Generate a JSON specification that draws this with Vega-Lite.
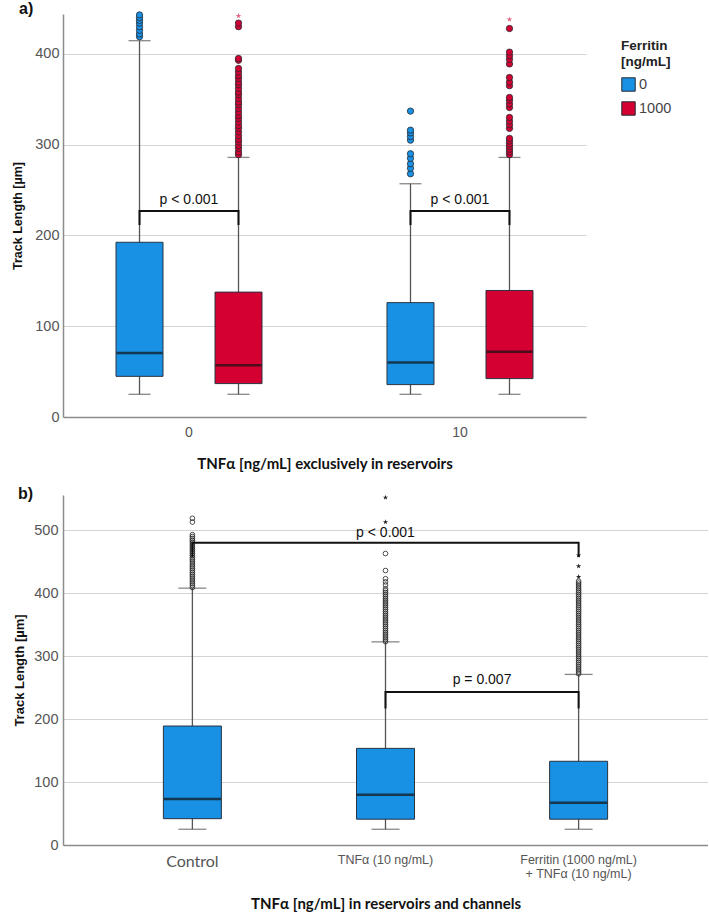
{
  "$schema": "https://vega.github.io/schema/vega-lite/v6.json",
  "background": "white",
  "padding": {"left": 11, "top": 0, "right": 0, "bottom": 0},
  "spacing": 14,
  "config": {
    "view": {"stroke": null},
    "axis": {
      "labelFont": "Liberation Sans",
      "labelColor": "#555555",
      "labelFontSize": 14,
      "titleFont": "Lato",
      "titleFontWeight": "bold",
      "titleColor": "#111111",
      "domainColor": "#8c8c8c",
      "domainWidth": 1.5,
      "gridColor": "#d4d4d4",
      "gridWidth": 1,
      "ticks": false
    },
    "title": {"font": "Liberation Sans", "fontWeight": "bold", "fontSize": 16, "color": "#111111"}
  },
  "resolve": {"scale": {"x": "independent", "y": "independent", "fill": "independent"}},
  "datasets": {
    "boxA": [
      {"group": "0", "ferritin": "0", "min": 25, "q1": 44.8, "median": 70.5, "q3": 192.5, "max": 414.6},
      {"group": "0", "ferritin": "1000", "min": 25, "q1": 36.8, "median": 57, "q3": 137.6, "max": 286},
      {"group": "10", "ferritin": "0", "min": 25, "q1": 35.7, "median": 60, "q3": 126, "max": 257},
      {"group": "10", "ferritin": "1000", "min": 25, "q1": 42.3, "median": 72, "q3": 139.4, "max": 286}
    ],
    "outA": [
      {"group": "0", "ferritin": "0", "value": 419, "kind": "outlier"},
      {"group": "0", "ferritin": "0", "value": 422, "kind": "outlier"},
      {"group": "0", "ferritin": "0", "value": 426, "kind": "outlier"},
      {"group": "0", "ferritin": "0", "value": 430, "kind": "outlier"},
      {"group": "0", "ferritin": "0", "value": 434, "kind": "outlier"},
      {"group": "0", "ferritin": "0", "value": 437, "kind": "outlier"},
      {"group": "0", "ferritin": "0", "value": 440, "kind": "outlier"},
      {"group": "0", "ferritin": "0", "value": 443, "kind": "outlier"},
      {"group": "0", "ferritin": "1000", "value": 289, "kind": "outlier"},
      {"group": "0", "ferritin": "1000", "value": 292, "kind": "outlier"},
      {"group": "0", "ferritin": "1000", "value": 296, "kind": "outlier"},
      {"group": "0", "ferritin": "1000", "value": 299, "kind": "outlier"},
      {"group": "0", "ferritin": "1000", "value": 303, "kind": "outlier"},
      {"group": "0", "ferritin": "1000", "value": 306, "kind": "outlier"},
      {"group": "0", "ferritin": "1000", "value": 310, "kind": "outlier"},
      {"group": "0", "ferritin": "1000", "value": 314, "kind": "outlier"},
      {"group": "0", "ferritin": "1000", "value": 318, "kind": "outlier"},
      {"group": "0", "ferritin": "1000", "value": 321, "kind": "outlier"},
      {"group": "0", "ferritin": "1000", "value": 325, "kind": "outlier"},
      {"group": "0", "ferritin": "1000", "value": 329, "kind": "outlier"},
      {"group": "0", "ferritin": "1000", "value": 332, "kind": "outlier"},
      {"group": "0", "ferritin": "1000", "value": 336, "kind": "outlier"},
      {"group": "0", "ferritin": "1000", "value": 340, "kind": "outlier"},
      {"group": "0", "ferritin": "1000", "value": 344, "kind": "outlier"},
      {"group": "0", "ferritin": "1000", "value": 347, "kind": "outlier"},
      {"group": "0", "ferritin": "1000", "value": 351, "kind": "outlier"},
      {"group": "0", "ferritin": "1000", "value": 355, "kind": "outlier"},
      {"group": "0", "ferritin": "1000", "value": 358, "kind": "outlier"},
      {"group": "0", "ferritin": "1000", "value": 362, "kind": "outlier"},
      {"group": "0", "ferritin": "1000", "value": 366, "kind": "outlier"},
      {"group": "0", "ferritin": "1000", "value": 369, "kind": "outlier"},
      {"group": "0", "ferritin": "1000", "value": 373, "kind": "outlier"},
      {"group": "0", "ferritin": "1000", "value": 376, "kind": "outlier"},
      {"group": "0", "ferritin": "1000", "value": 380, "kind": "outlier"},
      {"group": "0", "ferritin": "1000", "value": 384, "kind": "outlier"},
      {"group": "0", "ferritin": "1000", "value": 393, "kind": "outlier"},
      {"group": "0", "ferritin": "1000", "value": 395, "kind": "outlier"},
      {"group": "0", "ferritin": "1000", "value": 430, "kind": "outlier"},
      {"group": "0", "ferritin": "1000", "value": 434, "kind": "outlier"},
      {"group": "0", "ferritin": "1000", "value": 442, "kind": "extreme"},
      {"group": "10", "ferritin": "0", "value": 268, "kind": "outlier"},
      {"group": "10", "ferritin": "0", "value": 274, "kind": "outlier"},
      {"group": "10", "ferritin": "0", "value": 279, "kind": "outlier"},
      {"group": "10", "ferritin": "0", "value": 285, "kind": "outlier"},
      {"group": "10", "ferritin": "0", "value": 290, "kind": "outlier"},
      {"group": "10", "ferritin": "0", "value": 305, "kind": "outlier"},
      {"group": "10", "ferritin": "0", "value": 309, "kind": "outlier"},
      {"group": "10", "ferritin": "0", "value": 313, "kind": "outlier"},
      {"group": "10", "ferritin": "0", "value": 316, "kind": "outlier"},
      {"group": "10", "ferritin": "0", "value": 337, "kind": "outlier"},
      {"group": "10", "ferritin": "1000", "value": 289, "kind": "outlier"},
      {"group": "10", "ferritin": "1000", "value": 292, "kind": "outlier"},
      {"group": "10", "ferritin": "1000", "value": 295, "kind": "outlier"},
      {"group": "10", "ferritin": "1000", "value": 298, "kind": "outlier"},
      {"group": "10", "ferritin": "1000", "value": 301, "kind": "outlier"},
      {"group": "10", "ferritin": "1000", "value": 304, "kind": "outlier"},
      {"group": "10", "ferritin": "1000", "value": 307, "kind": "outlier"},
      {"group": "10", "ferritin": "1000", "value": 318, "kind": "outlier"},
      {"group": "10", "ferritin": "1000", "value": 322, "kind": "outlier"},
      {"group": "10", "ferritin": "1000", "value": 326, "kind": "outlier"},
      {"group": "10", "ferritin": "1000", "value": 330, "kind": "outlier"},
      {"group": "10", "ferritin": "1000", "value": 341, "kind": "outlier"},
      {"group": "10", "ferritin": "1000", "value": 345, "kind": "outlier"},
      {"group": "10", "ferritin": "1000", "value": 349, "kind": "outlier"},
      {"group": "10", "ferritin": "1000", "value": 352, "kind": "outlier"},
      {"group": "10", "ferritin": "1000", "value": 365, "kind": "outlier"},
      {"group": "10", "ferritin": "1000", "value": 369, "kind": "outlier"},
      {"group": "10", "ferritin": "1000", "value": 374, "kind": "outlier"},
      {"group": "10", "ferritin": "1000", "value": 389, "kind": "outlier"},
      {"group": "10", "ferritin": "1000", "value": 394, "kind": "outlier"},
      {"group": "10", "ferritin": "1000", "value": 398, "kind": "outlier"},
      {"group": "10", "ferritin": "1000", "value": 402, "kind": "outlier"},
      {"group": "10", "ferritin": "1000", "value": 428, "kind": "outlier"},
      {"group": "10", "ferritin": "1000", "value": 438, "kind": "extreme"}
    ],
    "bracketA": [
      {"bracket": "a0", "step": 1, "group": "0", "ferritin": "0", "y": 211.5},
      {"bracket": "a0", "step": 2, "group": "0", "ferritin": "0", "y": 227},
      {"bracket": "a0", "step": 3, "group": "0", "ferritin": "1000", "y": 227},
      {"bracket": "a0", "step": 4, "group": "0", "ferritin": "1000", "y": 211.5},
      {"bracket": "a10", "step": 1, "group": "10", "ferritin": "0", "y": 211.5},
      {"bracket": "a10", "step": 2, "group": "10", "ferritin": "0", "y": 227},
      {"bracket": "a10", "step": 3, "group": "10", "ferritin": "1000", "y": 227},
      {"bracket": "a10", "step": 4, "group": "10", "ferritin": "1000", "y": 211.5}
    ],
    "pA": [
      {"group": "0", "y": 239, "label": "p < 0.001"},
      {"group": "10", "y": 239, "label": "p < 0.001"}
    ],
    "boxB": [
      {"cond": "Control", "min": 25, "q1": 41.8, "median": 73, "q3": 189, "max": 408},
      {"cond": "TNFα (10 ng/mL)", "min": 25, "q1": 41, "median": 80, "q3": 153.5, "max": 322.7},
      {"cond": "Ferritin (1000 ng/mL) + TNFα (10 ng/mL)", "min": 25, "q1": 41, "median": 67, "q3": 133, "max": 271}
    ],
    "outB": [
      {"cond": "Control", "value": 409, "kind": "outlier"},
      {"cond": "Control", "value": 412, "kind": "outlier"},
      {"cond": "Control", "value": 415, "kind": "outlier"},
      {"cond": "Control", "value": 418, "kind": "outlier"},
      {"cond": "Control", "value": 421, "kind": "outlier"},
      {"cond": "Control", "value": 424, "kind": "outlier"},
      {"cond": "Control", "value": 427, "kind": "outlier"},
      {"cond": "Control", "value": 430, "kind": "outlier"},
      {"cond": "Control", "value": 433, "kind": "outlier"},
      {"cond": "Control", "value": 436, "kind": "outlier"},
      {"cond": "Control", "value": 439, "kind": "outlier"},
      {"cond": "Control", "value": 442, "kind": "outlier"},
      {"cond": "Control", "value": 445, "kind": "outlier"},
      {"cond": "Control", "value": 448, "kind": "outlier"},
      {"cond": "Control", "value": 451, "kind": "outlier"},
      {"cond": "Control", "value": 454, "kind": "outlier"},
      {"cond": "Control", "value": 457, "kind": "outlier"},
      {"cond": "Control", "value": 460, "kind": "outlier"},
      {"cond": "Control", "value": 463, "kind": "outlier"},
      {"cond": "Control", "value": 466, "kind": "outlier"},
      {"cond": "Control", "value": 469, "kind": "outlier"},
      {"cond": "Control", "value": 472, "kind": "outlier"},
      {"cond": "Control", "value": 475, "kind": "outlier"},
      {"cond": "Control", "value": 478, "kind": "outlier"},
      {"cond": "Control", "value": 481, "kind": "outlier"},
      {"cond": "Control", "value": 484, "kind": "outlier"},
      {"cond": "Control", "value": 487, "kind": "outlier"},
      {"cond": "Control", "value": 490, "kind": "outlier"},
      {"cond": "Control", "value": 493, "kind": "outlier"},
      {"cond": "Control", "value": 513, "kind": "outlier"},
      {"cond": "Control", "value": 519, "kind": "outlier"},
      {"cond": "TNFα (10 ng/mL)", "value": 323, "kind": "outlier"},
      {"cond": "TNFα (10 ng/mL)", "value": 326, "kind": "outlier"},
      {"cond": "TNFα (10 ng/mL)", "value": 329, "kind": "outlier"},
      {"cond": "TNFα (10 ng/mL)", "value": 332, "kind": "outlier"},
      {"cond": "TNFα (10 ng/mL)", "value": 335, "kind": "outlier"},
      {"cond": "TNFα (10 ng/mL)", "value": 338, "kind": "outlier"},
      {"cond": "TNFα (10 ng/mL)", "value": 341, "kind": "outlier"},
      {"cond": "TNFα (10 ng/mL)", "value": 344, "kind": "outlier"},
      {"cond": "TNFα (10 ng/mL)", "value": 347, "kind": "outlier"},
      {"cond": "TNFα (10 ng/mL)", "value": 350, "kind": "outlier"},
      {"cond": "TNFα (10 ng/mL)", "value": 353, "kind": "outlier"},
      {"cond": "TNFα (10 ng/mL)", "value": 356, "kind": "outlier"},
      {"cond": "TNFα (10 ng/mL)", "value": 359, "kind": "outlier"},
      {"cond": "TNFα (10 ng/mL)", "value": 362, "kind": "outlier"},
      {"cond": "TNFα (10 ng/mL)", "value": 365, "kind": "outlier"},
      {"cond": "TNFα (10 ng/mL)", "value": 368, "kind": "outlier"},
      {"cond": "TNFα (10 ng/mL)", "value": 371, "kind": "outlier"},
      {"cond": "TNFα (10 ng/mL)", "value": 374, "kind": "outlier"},
      {"cond": "TNFα (10 ng/mL)", "value": 377, "kind": "outlier"},
      {"cond": "TNFα (10 ng/mL)", "value": 380, "kind": "outlier"},
      {"cond": "TNFα (10 ng/mL)", "value": 383, "kind": "outlier"},
      {"cond": "TNFα (10 ng/mL)", "value": 386, "kind": "outlier"},
      {"cond": "TNFα (10 ng/mL)", "value": 389, "kind": "outlier"},
      {"cond": "TNFα (10 ng/mL)", "value": 392, "kind": "outlier"},
      {"cond": "TNFα (10 ng/mL)", "value": 395, "kind": "outlier"},
      {"cond": "TNFα (10 ng/mL)", "value": 398, "kind": "outlier"},
      {"cond": "TNFα (10 ng/mL)", "value": 401, "kind": "outlier"},
      {"cond": "TNFα (10 ng/mL)", "value": 404, "kind": "outlier"},
      {"cond": "TNFα (10 ng/mL)", "value": 407, "kind": "outlier"},
      {"cond": "TNFα (10 ng/mL)", "value": 413, "kind": "outlier"},
      {"cond": "TNFα (10 ng/mL)", "value": 418, "kind": "outlier"},
      {"cond": "TNFα (10 ng/mL)", "value": 423, "kind": "outlier"},
      {"cond": "TNFα (10 ng/mL)", "value": 436, "kind": "outlier"},
      {"cond": "TNFα (10 ng/mL)", "value": 463, "kind": "outlier"},
      {"cond": "TNFα (10 ng/mL)", "value": 513, "kind": "extreme"},
      {"cond": "TNFα (10 ng/mL)", "value": 552, "kind": "extreme"},
      {"cond": "Ferritin (1000 ng/mL) + TNFα (10 ng/mL)", "value": 272, "kind": "outlier"},
      {"cond": "Ferritin (1000 ng/mL) + TNFα (10 ng/mL)", "value": 275, "kind": "outlier"},
      {"cond": "Ferritin (1000 ng/mL) + TNFα (10 ng/mL)", "value": 278, "kind": "outlier"},
      {"cond": "Ferritin (1000 ng/mL) + TNFα (10 ng/mL)", "value": 281, "kind": "outlier"},
      {"cond": "Ferritin (1000 ng/mL) + TNFα (10 ng/mL)", "value": 284, "kind": "outlier"},
      {"cond": "Ferritin (1000 ng/mL) + TNFα (10 ng/mL)", "value": 287, "kind": "outlier"},
      {"cond": "Ferritin (1000 ng/mL) + TNFα (10 ng/mL)", "value": 290, "kind": "outlier"},
      {"cond": "Ferritin (1000 ng/mL) + TNFα (10 ng/mL)", "value": 293, "kind": "outlier"},
      {"cond": "Ferritin (1000 ng/mL) + TNFα (10 ng/mL)", "value": 296, "kind": "outlier"},
      {"cond": "Ferritin (1000 ng/mL) + TNFα (10 ng/mL)", "value": 299, "kind": "outlier"},
      {"cond": "Ferritin (1000 ng/mL) + TNFα (10 ng/mL)", "value": 302, "kind": "outlier"},
      {"cond": "Ferritin (1000 ng/mL) + TNFα (10 ng/mL)", "value": 305, "kind": "outlier"},
      {"cond": "Ferritin (1000 ng/mL) + TNFα (10 ng/mL)", "value": 308, "kind": "outlier"},
      {"cond": "Ferritin (1000 ng/mL) + TNFα (10 ng/mL)", "value": 311, "kind": "outlier"},
      {"cond": "Ferritin (1000 ng/mL) + TNFα (10 ng/mL)", "value": 314, "kind": "outlier"},
      {"cond": "Ferritin (1000 ng/mL) + TNFα (10 ng/mL)", "value": 317, "kind": "outlier"},
      {"cond": "Ferritin (1000 ng/mL) + TNFα (10 ng/mL)", "value": 320, "kind": "outlier"},
      {"cond": "Ferritin (1000 ng/mL) + TNFα (10 ng/mL)", "value": 323, "kind": "outlier"},
      {"cond": "Ferritin (1000 ng/mL) + TNFα (10 ng/mL)", "value": 326, "kind": "outlier"},
      {"cond": "Ferritin (1000 ng/mL) + TNFα (10 ng/mL)", "value": 329, "kind": "outlier"},
      {"cond": "Ferritin (1000 ng/mL) + TNFα (10 ng/mL)", "value": 332, "kind": "outlier"},
      {"cond": "Ferritin (1000 ng/mL) + TNFα (10 ng/mL)", "value": 335, "kind": "outlier"},
      {"cond": "Ferritin (1000 ng/mL) + TNFα (10 ng/mL)", "value": 338, "kind": "outlier"},
      {"cond": "Ferritin (1000 ng/mL) + TNFα (10 ng/mL)", "value": 341, "kind": "outlier"},
      {"cond": "Ferritin (1000 ng/mL) + TNFα (10 ng/mL)", "value": 344, "kind": "outlier"},
      {"cond": "Ferritin (1000 ng/mL) + TNFα (10 ng/mL)", "value": 347, "kind": "outlier"},
      {"cond": "Ferritin (1000 ng/mL) + TNFα (10 ng/mL)", "value": 350, "kind": "outlier"},
      {"cond": "Ferritin (1000 ng/mL) + TNFα (10 ng/mL)", "value": 353, "kind": "outlier"},
      {"cond": "Ferritin (1000 ng/mL) + TNFα (10 ng/mL)", "value": 356, "kind": "outlier"},
      {"cond": "Ferritin (1000 ng/mL) + TNFα (10 ng/mL)", "value": 359, "kind": "outlier"},
      {"cond": "Ferritin (1000 ng/mL) + TNFα (10 ng/mL)", "value": 362, "kind": "outlier"},
      {"cond": "Ferritin (1000 ng/mL) + TNFα (10 ng/mL)", "value": 365, "kind": "outlier"},
      {"cond": "Ferritin (1000 ng/mL) + TNFα (10 ng/mL)", "value": 368, "kind": "outlier"},
      {"cond": "Ferritin (1000 ng/mL) + TNFα (10 ng/mL)", "value": 371, "kind": "outlier"},
      {"cond": "Ferritin (1000 ng/mL) + TNFα (10 ng/mL)", "value": 374, "kind": "outlier"},
      {"cond": "Ferritin (1000 ng/mL) + TNFα (10 ng/mL)", "value": 377, "kind": "outlier"},
      {"cond": "Ferritin (1000 ng/mL) + TNFα (10 ng/mL)", "value": 380, "kind": "outlier"},
      {"cond": "Ferritin (1000 ng/mL) + TNFα (10 ng/mL)", "value": 383, "kind": "outlier"},
      {"cond": "Ferritin (1000 ng/mL) + TNFα (10 ng/mL)", "value": 386, "kind": "outlier"},
      {"cond": "Ferritin (1000 ng/mL) + TNFα (10 ng/mL)", "value": 389, "kind": "outlier"},
      {"cond": "Ferritin (1000 ng/mL) + TNFα (10 ng/mL)", "value": 392, "kind": "outlier"},
      {"cond": "Ferritin (1000 ng/mL) + TNFα (10 ng/mL)", "value": 395, "kind": "outlier"},
      {"cond": "Ferritin (1000 ng/mL) + TNFα (10 ng/mL)", "value": 398, "kind": "outlier"},
      {"cond": "Ferritin (1000 ng/mL) + TNFα (10 ng/mL)", "value": 401, "kind": "outlier"},
      {"cond": "Ferritin (1000 ng/mL) + TNFα (10 ng/mL)", "value": 404, "kind": "outlier"},
      {"cond": "Ferritin (1000 ng/mL) + TNFα (10 ng/mL)", "value": 407, "kind": "outlier"},
      {"cond": "Ferritin (1000 ng/mL) + TNFα (10 ng/mL)", "value": 410, "kind": "outlier"},
      {"cond": "Ferritin (1000 ng/mL) + TNFα (10 ng/mL)", "value": 413, "kind": "outlier"},
      {"cond": "Ferritin (1000 ng/mL) + TNFα (10 ng/mL)", "value": 416, "kind": "outlier"},
      {"cond": "Ferritin (1000 ng/mL) + TNFα (10 ng/mL)", "value": 419, "kind": "outlier"},
      {"cond": "Ferritin (1000 ng/mL) + TNFα (10 ng/mL)", "value": 426, "kind": "extreme"},
      {"cond": "Ferritin (1000 ng/mL) + TNFα (10 ng/mL)", "value": 443, "kind": "extreme"},
      {"cond": "Ferritin (1000 ng/mL) + TNFα (10 ng/mL)", "value": 460, "kind": "extreme"}
    ],
    "bracketB": [
      {"bracket": "b1", "step": 1, "cond": "Control", "y": 457},
      {"bracket": "b1", "step": 2, "cond": "Control", "y": 480},
      {"bracket": "b1", "step": 3, "cond": "Ferritin (1000 ng/mL) + TNFα (10 ng/mL)", "y": 480},
      {"bracket": "b1", "step": 4, "cond": "Ferritin (1000 ng/mL) + TNFα (10 ng/mL)", "y": 457.6},
      {"bracket": "b2", "step": 1, "cond": "TNFα (10 ng/mL)", "y": 217},
      {"bracket": "b2", "step": 2, "cond": "TNFα (10 ng/mL)", "y": 243},
      {"bracket": "b2", "step": 3, "cond": "Ferritin (1000 ng/mL) + TNFα (10 ng/mL)", "y": 243},
      {"bracket": "b2", "step": 4, "cond": "Ferritin (1000 ng/mL) + TNFα (10 ng/mL)", "y": 217}
    ],
    "pB1": [{"cond": "TNFα (10 ng/mL)", "y": 495, "label": "p < 0.001"}],
    "pB2": [{"cond": "TNFα (10 ng/mL)", "y": 262, "label": "p = 0.007"}]
  },
  "vconcat": [
    {
      "width": 523,
      "height": 403,
      "title": {"text": "a)", "anchor": "start", "frame": "group", "dx": -44, "offset": -6.5},
      "encoding": {
        "x": {
          "field": "group",
          "type": "nominal",
          "sort": ["0", "10"],
          "scale": {"type": "band", "paddingInner": 0.2, "paddingOuter": 0.065},
          "axis": {
            "title": "TNFα [ng/mL] exclusively in reservoirs",
            "titleFont": "Lato",
            "titleFontSize": 15,
            "titlePadding": 17,
            "labelFont": "Liberation Sans",
            "labelFontSize": 14,
            "labelColor": "#555555",
            "labelAngle": 0,
            "labelPadding": 8,
            "grid": false
          }
        }
      },
      "layer": [
        {
          "data": {"name": "boxA"},
          "mark": {"type": "rule", "color": "#555555", "strokeWidth": 1.3},
          "encoding": {
            "xOffset": {"field": "ferritin", "type": "nominal", "sort": ["0", "1000"], "scale": {"paddingInner": 0, "paddingOuter": 0.095}},
            "y": {
              "field": "min",
              "type": "quantitative",
              "scale": {"domain": [0, 444], "nice": false},
              "axis": {
                "values": [0, 100, 200, 300, 400],
                "title": "Track Length [µm]",
                "titleFont": "Liberation Sans",
                "titleFontSize": 12.5,
                "titlePadding": 10,
                "labelFont": "Liberation Sans",
                "labelFontSize": 14.5,
                "labelColor": "#555555",
                "labelPadding": 4,
                "grid": true
              }
            },
            "y2": {"field": "max"}
          }
        },
        {
          "data": {"name": "boxA"},
          "mark": {"type": "tick", "color": "#555555", "thickness": 1.3, "size": 22, "orient": "horizontal"},
          "encoding": {
            "xOffset": {"field": "ferritin", "type": "nominal"},
            "y": {"field": "min", "type": "quantitative"}
          }
        },
        {
          "data": {"name": "boxA"},
          "mark": {"type": "tick", "color": "#555555", "thickness": 1.3, "size": 22, "orient": "horizontal"},
          "encoding": {
            "xOffset": {"field": "ferritin", "type": "nominal"},
            "y": {"field": "max", "type": "quantitative"}
          }
        },
        {
          "data": {"name": "boxA"},
          "mark": {"type": "bar", "size": 47, "stroke": "#2a3340", "strokeWidth": 1},
          "encoding": {
            "xOffset": {"field": "ferritin", "type": "nominal"},
            "y": {"field": "q1", "type": "quantitative"},
            "y2": {"field": "q3"},
            "fill": {
              "field": "ferritin",
              "type": "nominal",
              "scale": {"domain": ["0", "1000"], "range": ["#1890e4", "#d40032"]},
              "legend": {
                "title": ["Ferritin", "[ng/mL]"],
                "orient": "none",
                "legendX": 558,
                "legendY": 25,
                "symbolType": "square",
                "symbolSize": 180,
                "symbolStrokeColor": "#333333",
                "symbolStrokeWidth": 1,
                "symbolOpacity": 1,
                "labelFont": "Liberation Sans",
                "labelFontSize": 14.5,
                "labelColor": "#444444",
                "labelOffset": 3,
                "titleFont": "Liberation Sans",
                "titleFontSize": 13.5,
                "titleFontWeight": "bold",
                "titleColor": "#222222",
                "titlePadding": 9,
                "rowPadding": 5
              }
            }
          }
        },
        {
          "data": {"name": "boxA"},
          "mark": {"type": "tick", "color": "#111111", "thickness": 2.5, "size": 46, "orient": "horizontal"},
          "encoding": {
            "xOffset": {"field": "ferritin", "type": "nominal"},
            "y": {"field": "median", "type": "quantitative"}
          }
        },
        {
          "data": {"name": "outA"},
          "transform": [{"filter": "datum.kind === 'outlier'"}],
          "mark": {"type": "point", "shape": "circle", "filled": true, "size": 40, "stroke": "#262b33", "strokeWidth": 0.8, "opacity": 1},
          "encoding": {
            "xOffset": {"field": "ferritin", "type": "nominal"},
            "y": {"field": "value", "type": "quantitative"},
            "fill": {"field": "ferritin", "type": "nominal"}
          }
        },
        {
          "data": {"name": "outA"},
          "transform": [{"filter": "datum.kind === 'extreme'"}],
          "mark": {"type": "point", "shape": "M0,-1L0.225,-0.31L0.951,-0.309L0.363,0.118L0.588,0.809L0,0.382L-0.588,0.809L-0.363,0.118L-0.951,-0.309L-0.225,-0.31Z", "filled": true, "size": 36, "opacity": 0.6, "strokeWidth": 0},
          "encoding": {
            "xOffset": {"field": "ferritin", "type": "nominal"},
            "y": {"field": "value", "type": "quantitative"},
            "fill": {"field": "ferritin", "type": "nominal"}
          }
        },
        {
          "data": {"name": "bracketA"},
          "mark": {"type": "line", "color": "#111111", "strokeWidth": 2},
          "encoding": {
            "xOffset": {"field": "ferritin", "type": "nominal"},
            "y": {"field": "y", "type": "quantitative"},
            "detail": {"field": "bracket"},
            "order": {"field": "step"}
          }
        },
        {
          "data": {"name": "pA"},
          "mark": {"type": "text", "font": "Liberation Sans", "fontSize": 14, "color": "#111111", "baseline": "middle"},
          "encoding": {
            "y": {"field": "y", "type": "quantitative"},
            "text": {"field": "label"}
          }
        }
      ]
    },
    {
      "width": 645,
      "height": 350,
      "title": {"text": "b)", "anchor": "start", "frame": "group", "dx": -45, "offset": -7},
      "encoding": {
        "x": {
          "field": "cond",
          "type": "nominal",
          "sort": ["Control", "TNFα (10 ng/mL)", "Ferritin (1000 ng/mL) + TNFα (10 ng/mL)"],
          "scale": {"type": "band", "paddingInner": 0, "paddingOuter": 0.17},
          "axis": {
            "title": "TNFα [ng/mL] in reservoirs and channels",
            "titleFont": "Lato",
            "titleFontSize": 15,
            "titlePadding": 17,
            "labelAngle": 0,
            "labelPadding": 8,
            "labelLineHeight": 14,
            "labelColor": "#555555",
            "labelExpr": "indexof(datum.label, ' + ') > 0 ? [slice(datum.label, 0, indexof(datum.label, ' + ')), slice(datum.label, indexof(datum.label, ' + ') + 1)] : datum.label",
            "labelFontSize": {"condition": {"test": "datum.value === 'Control'", "value": 16}, "value": 12.5},
            "labelFont": {"condition": {"test": "datum.value === 'Control'", "value": "Lato"}, "value": "Liberation Sans"},
            "grid": false
          }
        }
      },
      "layer": [
        {
          "data": {"name": "boxB"},
          "mark": {"type": "rule", "color": "#555555", "strokeWidth": 1.3},
          "encoding": {
            "y": {
              "field": "min",
              "type": "quantitative",
              "scale": {"domain": [0, 556], "nice": false},
              "axis": {
                "values": [0, 100, 200, 300, 400, 500],
                "title": "Track Length [µm]",
                "titleFont": "Liberation Sans",
                "titleFontSize": 13,
                "titlePadding": 7,
                "labelFont": "Liberation Sans",
                "labelFontSize": 14.5,
                "labelColor": "#555555",
                "labelPadding": 5,
                "grid": true
              }
            },
            "y2": {"field": "max"}
          }
        },
        {
          "data": {"name": "boxB"},
          "mark": {"type": "tick", "color": "#555555", "thickness": 1.3, "size": 28, "orient": "horizontal"},
          "encoding": {"y": {"field": "min", "type": "quantitative"}}
        },
        {
          "data": {"name": "boxB"},
          "mark": {"type": "tick", "color": "#555555", "thickness": 1.3, "size": 28, "orient": "horizontal"},
          "encoding": {"y": {"field": "max", "type": "quantitative"}}
        },
        {
          "data": {"name": "boxB"},
          "mark": {"type": "bar", "size": 58, "fill": "#1890e4", "stroke": "#2a3340", "strokeWidth": 1},
          "encoding": {
            "y": {"field": "q1", "type": "quantitative"},
            "y2": {"field": "q3"}
          }
        },
        {
          "data": {"name": "boxB"},
          "mark": {"type": "tick", "color": "#111111", "thickness": 2.5, "size": 57, "orient": "horizontal"},
          "encoding": {"y": {"field": "median", "type": "quantitative"}}
        },
        {
          "data": {"name": "outB"},
          "transform": [{"filter": "datum.kind === 'outlier'"}],
          "mark": {"type": "point", "shape": "circle", "filled": false, "size": 22, "stroke": "#222222", "strokeWidth": 0.8, "opacity": 1},
          "encoding": {"y": {"field": "value", "type": "quantitative"}}
        },
        {
          "data": {"name": "outB"},
          "transform": [{"filter": "datum.kind === 'extreme'"}],
          "mark": {"type": "point", "shape": "M0,-1L0.225,-0.31L0.951,-0.309L0.363,0.118L0.588,0.809L0,0.382L-0.588,0.809L-0.363,0.118L-0.951,-0.309L-0.225,-0.31Z", "filled": true, "size": 30, "fill": "#222222", "opacity": 1, "strokeWidth": 0},
          "encoding": {"y": {"field": "value", "type": "quantitative"}}
        },
        {
          "data": {"name": "bracketB"},
          "mark": {"type": "line", "color": "#111111", "strokeWidth": 2},
          "encoding": {
            "y": {"field": "y", "type": "quantitative"},
            "detail": {"field": "bracket"},
            "order": {"field": "step"}
          }
        },
        {
          "data": {"name": "pB1"},
          "mark": {"type": "text", "font": "Liberation Sans", "fontSize": 14, "color": "#111111", "baseline": "middle"},
          "encoding": {
            "y": {"field": "y", "type": "quantitative"},
            "text": {"field": "label"}
          }
        },
        {
          "data": {"name": "pB2"},
          "mark": {"type": "text", "font": "Liberation Sans", "fontSize": 14, "color": "#111111", "baseline": "middle"},
          "encoding": {
            "x": {"field": "cond", "type": "nominal", "bandPosition": 1},
            "y": {"field": "y", "type": "quantitative"},
            "text": {"field": "label"}
          }
        }
      ]
    }
  ]
}
